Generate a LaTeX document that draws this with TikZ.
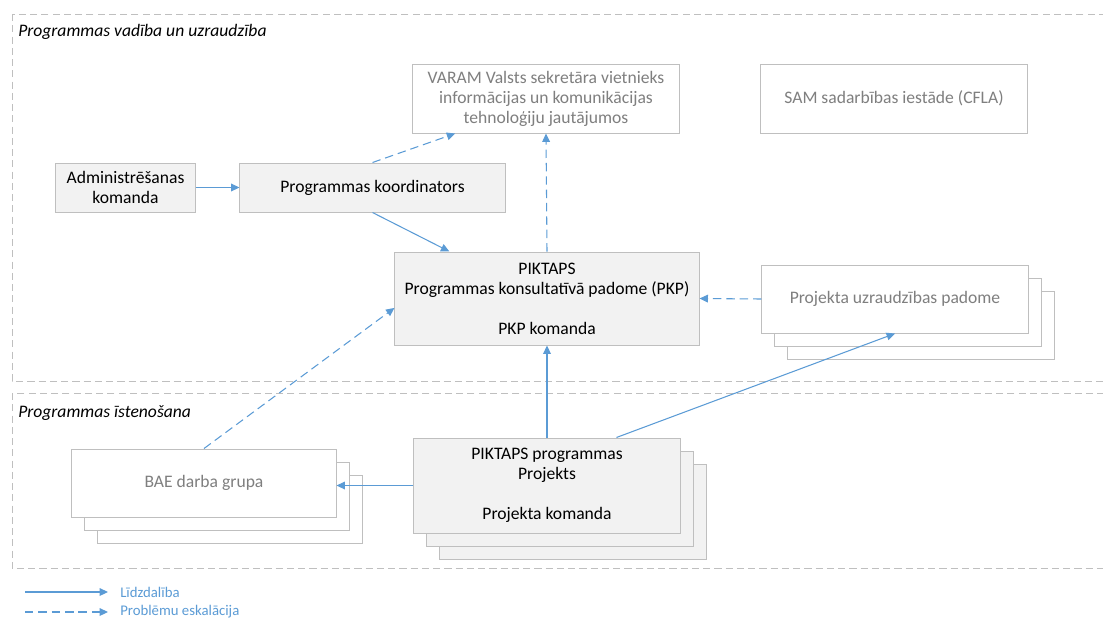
\documentclass[tikz,border=0pt]{standalone}
\usepackage{fontspec}
\setmainfont{Carlito}
\usetikzlibrary{arrows.meta,calc}
\definecolor{freccia}{HTML}{5B9BD5}
\definecolor{bordo}{HTML}{BFBFBF}
\definecolor{grigio}{HTML}{7F7F7F}
\definecolor{riempi}{HTML}{F2F2F2}

\begin{document}
\begin{tikzpicture}[x=0.025cm,y=-0.025cm,
		box/.style={draw=bordo,line width=0.7pt,align=center,inner sep=0pt,font=\fontsize{12.5}{14.2}\selectfont},
		pieno/.style={box,fill=riempi,text=black},
		vuoto/.style={box,fill=white,text=grigio},
		area/.style={draw=bordo,line width=0.7pt,dash pattern=on 5pt off 3pt},
		link/.style={draw=freccia,line width=0.75pt,-{Triangle[length=6pt,width=5.5pt]}},
		escal/.style={link,dash pattern=on 6pt off 3.5pt},
		legenda/.style={text=freccia,inner sep=0pt,font=\fontsize{10.5}{12}\selectfont}]
		\useasboundingbox (0,0) rectangle (1103,621);
		\clip (0,0) rectangle (1103,621);

		% Aree
		\draw[area] (12,14) rectangle (1120,381);
		\draw[area] (12,393) rectangle (1120,568);
		\node[anchor=west,inner sep=0pt,font=\fontsize{12.5}{14}\itshape] (guida) at (18,32) {Programmas vadība un uzraudzība};
		\node[anchor=west,inner sep=0pt,font=\fontsize{12.5}{14}\itshape] (attua) at (18,413) {Programmas īstenošana};

		% Riquadri
		\node[vuoto,minimum width=6.65cm,minimum height=1.725cm] (varam) at (546,98.5) {VARAM Valsts sekretāra vietnieks\\informācijas un komunikācijas\\tehnoloģiju jautājumos};
		\node[vuoto,minimum width=6.65cm,minimum height=1.725cm] (sam) at (894,98.5) {SAM sadarbības iestāde (CFLA)};
		\node[pieno,minimum width=3.475cm,minimum height=1.225cm] (admin) at (125.5,187.5) {Administrēšanas\\komanda};
		\node[pieno,minimum width=6.625cm,minimum height=1.225cm] (koord) at (372.5,187.5) {Programmas koordinators};
		\node[pieno,minimum width=7.6cm,minimum height=2.325cm] (pkp) at (547,298.5) {PIKTAPS\\Programmas konsultatīvā padome (PKP)\\[14.2pt]PKP komanda};

		% Pile
		\node[vuoto,minimum width=6.65cm,minimum height=1.7cm] (uzr3) at (921,325) {};
		\node[vuoto,minimum width=6.65cm,minimum height=1.7cm] (uzr2) at (908,312) {};
		\node[vuoto,minimum width=6.65cm,minimum height=1.7cm] (uzr) at (895,299) {Projekta uzraudzības padome};
		\node[vuoto,minimum width=6.6cm,minimum height=1.7cm] (bae3) at (230,509) {};
		\node[vuoto,minimum width=6.6cm,minimum height=1.7cm] (bae2) at (217,496) {};
		\node[vuoto,minimum width=6.6cm,minimum height=1.7cm] (bae) at (204,483) {BAE darba grupa};
		\node[pieno,minimum width=6.65cm,minimum height=2.375cm] (proj3) at (573,511.5) {};
		\node[pieno,minimum width=6.65cm,minimum height=2.375cm] (proj2) at (560,498.5) {};
		\node[pieno,minimum width=6.65cm,minimum height=2.375cm] (proj) at (547,485.5) {PIKTAPS programmas\\Projekts\\[14.2pt]Projekta komanda};

		% Frecce
		\draw[link] (admin.east) -- (koord.west);
		\draw[link] (koord.south) -- ($(pkp.north west)!0.18!(pkp.north east)$);
		\draw[escal] (koord.north) -- ($(varam.south west)!0.16!(varam.south east)$);
		\draw[escal] (pkp.north) -- (varam.south);
		\draw[escal] (uzr.west) -- (pkp.east);
		\draw[escal] (bae.north) -- ($(pkp.north west)!0.6!(pkp.south west)$);
		\draw[link] (proj.north) -- (pkp.south);
		\draw[link] ($(proj.north west)!0.76!(proj.north east)$) -- (uzr.south);
		\draw[link] (proj.west) -- (proj.west -| bae.east);

		% Legenda
		\coordinate (l1) at (25,592);
		\coordinate (l2) at (25,612);
		\node[legenda,anchor=west] (lidz) at (120,592) {Līdzdalība};
		\node[legenda,anchor=west] (eskal) at (120,612) {Problēmu eskalācija};
		\draw[link] (l1) -- ([xshift=-0.3cm]lidz.west);
		\draw[escal] (l2) -- ([xshift=-0.3cm]eskal.west);
	\end{tikzpicture}
\end{document}
